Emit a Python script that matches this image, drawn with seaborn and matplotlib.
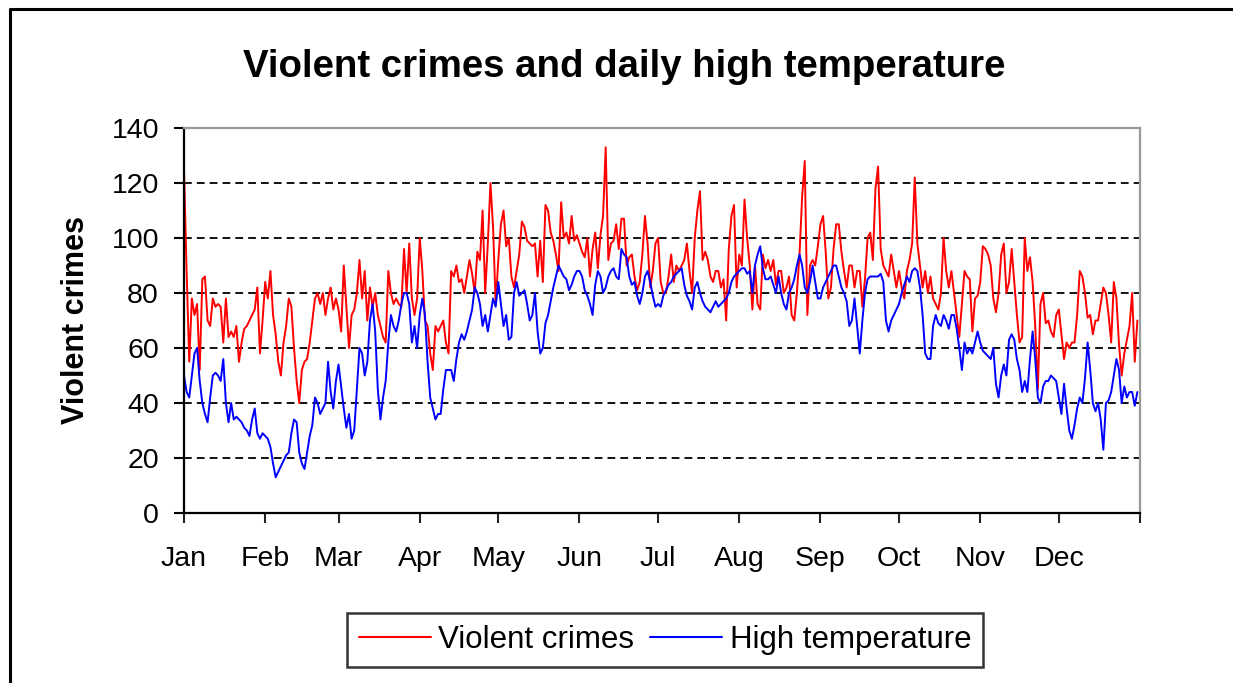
import numpy as np
import pandas as pd
import matplotlib
matplotlib.use("Agg")
import matplotlib.pyplot as plt
from matplotlib.lines import Line2D
import seaborn as sns

# ---------------- data (one value per day) ----------------
violent_crimes = (
    # Jan
    [125, 88, 55, 78, 72, 76, 52, 85, 86, 70, 68, 78, 75, 76, 75, 62, 78, 64, 66, 64,
     68, 55, 62, 67, 68, 70, 72, 74, 82, 58, 70]
    # Feb
    + [84, 78, 88, 72, 65, 55, 50, 62, 68, 78, 75, 60, 48, 40, 52, 55, 56, 62, 70, 78,
       80, 76, 80, 72, 78, 82, 74, 78]
    # Mar
    + [74, 66, 90, 75, 60, 72, 74, 80, 92, 78, 88, 70, 82, 75, 80, 72, 68, 64, 62, 88,
       80, 76, 78, 76, 75, 96, 80, 98, 78, 72, 78]
    # Apr
    + [100, 88, 70, 68, 58, 52, 68, 66, 68, 70, 62, 58, 88, 86, 90, 84, 85, 80, 86, 92,
       87, 80, 95, 92, 110, 80, 98, 120, 104, 76]
    # May
    + [92, 105, 110, 97, 100, 86, 82, 88, 94, 106, 104, 99, 98, 97, 98, 86, 99, 84, 112, 110,
       102, 99, 94, 88, 113, 100, 102, 98, 108, 99, 101]
    # Jun
    + [98, 95, 93, 100, 86, 96, 102, 89, 101, 108, 133, 92, 98, 99, 105, 96, 107, 107, 90, 93,
       94, 86, 81, 84, 94, 108, 98, 82, 88, 98]
    # Jul
    + [100, 84, 80, 80, 86, 94, 84, 90, 88, 90, 92, 98, 88, 80, 100, 110, 117, 92, 95, 92,
       86, 84, 88, 88, 82, 85, 70, 96, 108, 112, 82]
    # Aug
    + [94, 90, 114, 100, 90, 74, 90, 76, 74, 94, 89, 92, 88, 92, 83, 88, 88, 80, 82, 86,
       72, 70, 80, 94, 115, 128, 72, 90, 92, 90, 97]
    # Sep
    + [105, 108, 95, 78, 82, 96, 105, 105, 95, 88, 82, 90, 90, 82, 88, 88, 75, 85, 100, 102,
       92, 118, 126, 96, 90, 88, 86, 94, 88, 82]
    # Oct
    + [88, 82, 78, 88, 92, 98, 122, 98, 90, 82, 88, 80, 86, 78, 76, 74, 80, 100, 88, 82,
       88, 80, 72, 64, 76, 88, 86, 85, 66, 78, 79]
    # Nov
    + [84, 97, 96, 94, 90, 78, 73, 80, 94, 98, 80, 84, 96, 84, 72, 62, 64, 100, 88, 93,
       84, 68, 45, 76, 80, 69, 70, 66, 64, 72]
    # Dec
    + [74, 65, 56, 62, 60, 62, 62, 72, 88, 86, 80, 71, 72, 65, 70, 70, 76, 82, 80, 72,
       62, 84, 78, 61, 50, 58, 63, 68, 80, 55, 70]
)

high_temperature = (
    # Jan
    [50, 44, 42, 50, 58, 60, 48, 40, 36, 33, 42, 50, 51, 50, 48, 56, 40, 33, 40, 34,
     35, 34, 33, 31, 30, 28, 34, 38, 29, 27, 29]
    # Feb
    + [28, 27, 24, 18, 13, 15, 17, 19, 21, 22, 29, 34, 33, 22, 18, 16, 22, 28, 32, 42,
       40, 36, 38, 40, 55, 44, 38, 48]
    # Mar
    + [54, 46, 38, 31, 36, 27, 30, 45, 60, 58, 50, 55, 70, 76, 66, 45, 34, 42, 48, 62,
       72, 68, 66, 70, 76, 80, 80, 76, 62, 68, 60]
    # Apr
    + [72, 78, 72, 55, 42, 38, 34, 36, 36, 45, 52, 52, 52, 48, 56, 62, 65, 63, 66, 70,
       74, 82, 80, 76, 68, 72, 66, 72, 78, 75]
    # May
    + [84, 76, 68, 72, 63, 64, 80, 84, 79, 80, 81, 76, 70, 72, 80, 66, 58, 60, 69, 72,
       77, 82, 86, 90, 88, 86, 85, 81, 83, 86, 88]
    # Jun
    + [88, 86, 81, 79, 76, 72, 83, 88, 86, 80, 82, 86, 88, 89, 86, 85, 96, 94, 93, 86,
       83, 84, 79, 76, 80, 86, 88, 84, 79, 75]
    # Jul
    + [76, 75, 79, 81, 83, 84, 86, 87, 88, 89, 83, 79, 77, 74, 82, 84, 80, 77, 75, 74,
       73, 75, 77, 75, 76, 77, 78, 80, 84, 86, 87]
    # Aug
    + [88, 89, 89, 87, 88, 80, 90, 94, 97, 89, 85, 85, 86, 83, 80, 86, 80, 76, 74, 80,
       82, 85, 90, 94, 90, 82, 80, 84, 90, 84, 78]
    # Sep
    + [78, 82, 84, 86, 88, 90, 90, 86, 82, 80, 77, 68, 70, 78, 68, 58, 70, 80, 85, 86,
       86, 86, 86, 87, 84, 70, 66, 70, 72, 74]
    # Oct
    + [76, 80, 83, 86, 84, 88, 89, 88, 82, 72, 58, 56, 56, 68, 72, 69, 68, 72, 70, 67,
       72, 72, 67, 60, 52, 62, 58, 60, 58, 62, 66]
    # Nov
    + [62, 59, 58, 57, 56, 60, 47, 42, 50, 54, 50, 63, 65, 63, 56, 52, 44, 48, 44, 56,
       66, 56, 42, 40, 46, 48, 48, 50, 49, 48]
    # Dec
    + [42, 36, 47, 38, 30, 27, 32, 38, 42, 40, 49, 62, 52, 40, 37, 40, 34, 23, 40, 41,
       44, 50, 56, 52, 40, 46, 42, 44, 44, 39, 44]
)

month_labels = ["Jan", "Feb", "Mar", "Apr", "May", "Jun",
                "Jul", "Aug", "Sep", "Oct", "Nov", "Dec"]
month_start_days = [0, 31, 59, 90, 120, 151, 181, 212, 243, 273, 304, 334]
days_in_year = 365
y_ticks = [0, 20, 40, 60, 80, 100, 120, 140]
series_names = ["Violent crimes", "High temperature"]
series_colors = {"Violent crimes": "#ff0000", "High temperature": "#0000ff"}

title_text = "Violent crimes and daily high temperature"
y_label_text = "Violent crimes"

# ---------------- figure ----------------
sns.set_theme(style="white")
plt.rcParams["font.family"] = ["Liberation Sans", "DejaVu Sans"]
plt.rcParams["text.color"] = "black"
plt.rcParams["axes.labelcolor"] = "black"
plt.rcParams["xtick.color"] = "black"
plt.rcParams["ytick.color"] = "black"

df = pd.DataFrame({
    "day": np.arange(len(violent_crimes)),
    "Violent crimes": violent_crimes,
    "High temperature": high_temperature,
})
long_df = df.melt(id_vars="day", var_name="series", value_name="value")

W, H = 1233, 683
fig = plt.figure(figsize=(W / 100, H / 100), dpi=100)
fig.patch.set_facecolor("white")

ax_l, ax_r, ax_t, ax_b = 184, 1140, 128, 513
ax = fig.add_axes([ax_l / W, 1 - ax_b / H, (ax_r - ax_l) / W, (ax_b - ax_t) / H])

sns.lineplot(data=long_df, x="day", y="value", hue="series",
             hue_order=series_names, palette=series_colors,
             linewidth=1.4, ax=ax, legend=False)

ax.set_xlim(0, days_in_year)
ax.set_ylim(y_ticks[0], y_ticks[-1])

ax.set_yticks(y_ticks)
ax.set_yticklabels([str(v) for v in y_ticks], fontsize=20.5, color="black")
ax.set_xticks(month_start_days + [days_in_year])
ax.set_xticklabels(month_labels + [""], fontsize=20.5, color="black")
ax.tick_params(axis="y", direction="out", length=7, width=1.5, pad=11,
               color="black", left=True)
ax.tick_params(axis="x", direction="out", length=7, width=1.5, pad=17,
               color="#222222", bottom=True)

ax.set_xlabel("")
ax.set_ylabel(y_label_text, fontsize=22, fontweight="bold", labelpad=15,
              color="black")

ax.yaxis.grid(True, linestyle=(0, (4, 2.6)), color="#111111", linewidth=1.4)
ax.xaxis.grid(False)
ax.set_axisbelow(True)
ygl = ax.get_ygridlines()
ygl[0].set_visible(False)
ygl[-1].set_visible(False)

for side in ["left", "bottom"]:
    ax.spines[side].set_color("black")
    ax.spines[side].set_linewidth(1.6)
for side in ["top", "right"]:
    ax.spines[side].set_color("#9a9a9a")
    ax.spines[side].set_linewidth(1.6)
ax.set_facecolor("white")

fig.text(624 / W, 1 - 67 / H, title_text, fontsize=27.6, fontweight="bold",
         ha="center", va="center", color="black")

handles = [Line2D([], [], color=series_colors[n], linewidth=1.5) for n in series_names]
leg = fig.legend(handles, series_names, loc="center",
                 bbox_to_anchor=(665 / W, 1 - 640 / H), ncol=2,
                 fontsize=22.5, frameon=True, fancybox=False, shadow=False,
                 handlelength=2.3, handletextpad=0.25, columnspacing=0.5,
                 borderpad=0.38, borderaxespad=0)
leg.get_frame().set_edgecolor("black")
leg.get_frame().set_linewidth(1.8)
for t in leg.get_texts():
    t.set_color("black")

# outer chart-area border (top and left edges visible in the reference)
fig.add_artist(Line2D([10 / W, 10 / W, 1.0], [0.0, 1 - 9 / H, 1 - 9 / H],
                      transform=fig.transFigure, color="black", linewidth=2.2))

fig.savefig("out.png", dpi=100, facecolor="white")
